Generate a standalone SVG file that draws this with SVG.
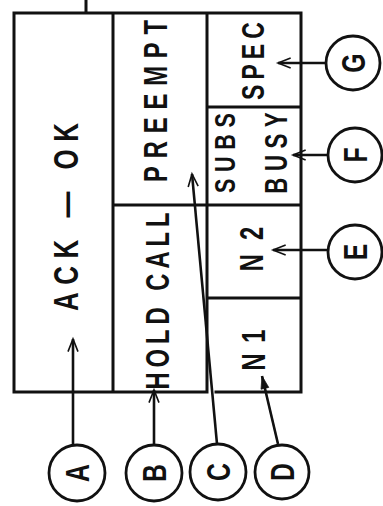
<svg xmlns="http://www.w3.org/2000/svg" width="383" height="506" viewBox="0 0 383 506">
<style>
.bx{fill:none;stroke:#111;stroke-width:3;stroke-linecap:square}
.lbl{font-family:"Liberation Sans",Arial,sans-serif;font-weight:bold;fill:#111;text-anchor:middle}
.cir{fill:#fff;stroke:#111;stroke-width:2.8}
.con{fill:none;stroke:#111;stroke-width:2.6}
</style>
<defs>
<marker id="open" viewBox="0 0 12 12" refX="11" refY="6" markerWidth="8" markerHeight="8" markerUnits="userSpaceOnUse" orient="auto" overflow="visible">
<path d="M-8,-1.5 L11,6 L-8,13.5" fill="none" stroke="#111" stroke-width="2.4"/>
</marker>
<marker id="solid" viewBox="0 0 12 12" refX="11" refY="6" markerWidth="8" markerHeight="8" markerUnits="userSpaceOnUse" orient="auto" overflow="visible">
<path d="M-8,0 L11,6 L-8,12 Z" fill="#111" stroke="#111" stroke-width="1"/>
</marker>
</defs>
<rect width="383" height="506" fill="#fff"/>
<g id="frame">
<path class="bx" d="M86,0 V13 M14,13 H301 V392 H216 M207,392 H14 V13 M113,13 V392 M207,13 V392 M113,205 H207 M207,107 H301 M207,205 H301 M207,298 H301"/>
</g>
<g id="ack-ok"><text class="lbl" font-size="36" transform="translate(78,217) rotate(-90) scale(0.72,1)" textLength="261" lengthAdjust="spacing">ACK — OK</text></g>
<g id="preempt"><text class="lbl" font-size="33" transform="translate(167,101) rotate(-90) scale(0.72,1)" textLength="225" lengthAdjust="spacing">PREEMPT</text></g>
<g id="hold-call"><text class="lbl" font-size="33" transform="translate(169,301) rotate(-90) scale(0.72,1)" textLength="246" lengthAdjust="spacing">HOLD CALL</text></g>
<g id="spec"><text class="lbl" font-size="32" transform="translate(264,61) rotate(-90) scale(0.72,1)" textLength="108" lengthAdjust="spacing">SPEC</text></g>
<g id="subs-busy">
<text class="lbl" font-size="30" transform="translate(235,153) rotate(-90) scale(0.72,1)" textLength="111" lengthAdjust="spacing">SUBS</text>
<text class="lbl" font-size="31" transform="translate(287,153) rotate(-90) scale(0.72,1)" textLength="113" lengthAdjust="spacing">BUSY</text>
</g>
<g id="n2"><text class="lbl" font-size="33" transform="translate(263,249) rotate(-90) scale(0.72,1)" textLength="62" lengthAdjust="spacing">N 2</text></g>
<g id="n1"><text class="lbl" font-size="33" transform="translate(265,350) rotate(-90) scale(0.72,1)" textLength="57" lengthAdjust="spacing">N 1</text></g>
<g id="connectors">
<line class="con" x1="73" y1="445" x2="73" y2="339" marker-end="url(#open)"/>
<line class="con" x1="154" y1="445" x2="154" y2="390" marker-end="url(#open)"/>
<line class="con" x1="217" y1="444" x2="192" y2="174" marker-end="url(#open)"/>
<line class="con" x1="278" y1="444" x2="262" y2="376" marker-end="url(#solid)"/>
<line class="con" x1="328" y1="250" x2="273" y2="250" marker-end="url(#open)"/>
<line class="con" x1="328" y1="155" x2="293" y2="155" marker-end="url(#open)"/>
<line class="con" x1="326" y1="63" x2="278" y2="63" marker-end="url(#open)"/>
</g>
<g id="A"><circle class="cir" cx="77" cy="473" r="28"/><text class="lbl" font-size="33" transform="translate(89,473) rotate(-90) scale(0.75,1)">A</text></g>
<g id="B"><circle class="cir" cx="154" cy="473" r="28"/><text class="lbl" font-size="33" transform="translate(166,473) rotate(-90) scale(0.75,1)">B</text></g>
<g id="C"><circle class="cir" cx="218" cy="472" r="28"/><text class="lbl" font-size="33" transform="translate(230,472) rotate(-90) scale(0.75,1)">C</text></g>
<g id="D"><circle class="cir" cx="282" cy="472" r="27"/><text class="lbl" font-size="33" transform="translate(294,472) rotate(-90) scale(0.75,1)">D</text></g>
<g id="E"><circle class="cir" cx="355" cy="252" r="27"/><text class="lbl" font-size="33" transform="translate(367,252) rotate(-90) scale(0.75,1)">E</text></g>
<g id="F"><circle class="cir" cx="355" cy="155" r="27"/><text class="lbl" font-size="33" transform="translate(367,155) rotate(-90) scale(0.75,1)">F</text></g>
<g id="G"><circle class="cir" cx="353" cy="63" r="27"/><text class="lbl" font-size="33" transform="translate(365,63) rotate(-90) scale(0.75,1)">G</text></g>
</svg>
